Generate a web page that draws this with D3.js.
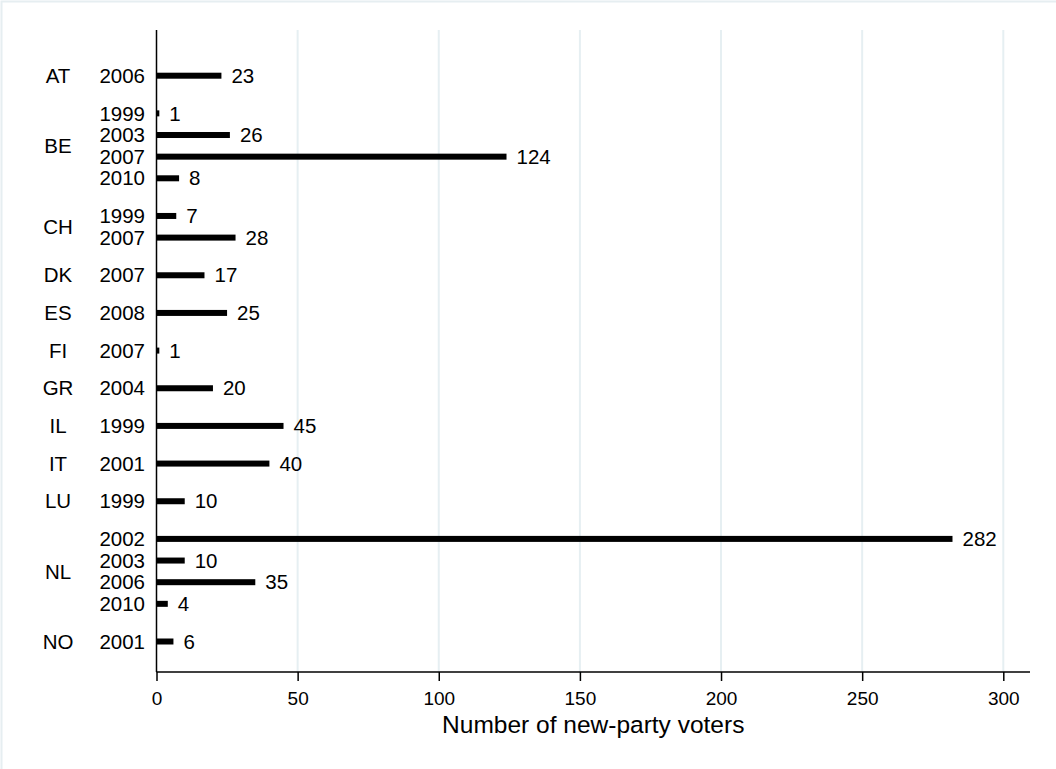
<!DOCTYPE html>
<html>
<head>
<meta charset="utf-8">
<script src="https://cdn.jsdelivr.net/npm/d3@7"></script>
<style>
  html, body { margin: 0; padding: 0; background: #fff; }
  svg { display: block; font-family: "Liberation Sans", Arial, Helvetica, sans-serif; }
</style>
</head>
<body>
<svg id="chart" width="1056" height="769"></svg>
<script>
// New-party voters by country and election year
const countries = ["AT", "BE", "BE", "BE", "BE", "CH", "CH", "DK", "ES", "FI", "GR", "IL", "IT", "LU", "NL", "NL", "NL", "NL", "NO"];
const years     = ["2006", "1999", "2003", "2007", "2010", "1999", "2007", "2007", "2008", "2007", "2004", "1999", "2001", "1999", "2002", "2003", "2006", "2010", "2001"];
const voters    = [23, 1, 26, 124, 8, 7, 28, 17, 25, 1, 20, 45, 40, 10, 282, 10, 35, 4, 6];
const xTicks    = [0, 50, 100, 150, 200, 250, 300];
const xTitle    = "Number of new-party voters";

const svg = d3.select("#chart");
const W = 1056, H = 769;
const LABEL_SIZE = 20.5;

// outer frame
svg.append("rect")
  .attr("x", 1.5).attr("y", 1.5)
  .attr("width", W + 10).attr("height", H + 10)
  .attr("fill", "none").attr("stroke", "#e6eef1").attr("stroke-width", 2);

const plot = { left: 156.5, right: 1030, top: 30, bottom: 672 };

const x = d3.scaleLinear().domain([0, 300]).range([plot.left, 1003.3]);

// slot positions: one unit per bar, extra gap between countries
const GAP = 0.74;
let grp = -1;
const rows = voters.map((v, i) => {
  if (i === 0 || countries[i] !== countries[i - 1]) grp++;
  return { country: countries[i], year: years[i], value: v, pos: i + GAP * grp, grp };
});
const lastPos = rows[rows.length - 1].pos;
const y = d3.scaleLinear().domain([0, lastPos]).range([75.7, 641.5]);

// vertical gridlines
svg.append("g").selectAll("line")
  .data(xTicks.filter(t => t > 0))
  .join("line")
  .attr("x1", d => x(d)).attr("x2", d => x(d))
  .attr("y1", plot.top).attr("y2", plot.bottom)
  .attr("stroke", "#e6eff2").attr("stroke-width", 2);

// bars
svg.append("g").selectAll("rect")
  .data(rows)
  .join("rect")
  .attr("x", x(0))
  .attr("y", d => y(d.pos) - 3)
  .attr("width", d => x(d.value) - x(0))
  .attr("height", 6)
  .attr("fill", "#000");

// value labels
svg.append("g").selectAll("text")
  .data(rows)
  .join("text")
  .attr("x", d => x(d.value) + 10)
  .attr("y", d => y(d.pos))
  .attr("dy", "0.35em")
  .attr("font-size", LABEL_SIZE)
  .attr("fill", "#000")
  .text(d => d.value);

// year labels
svg.append("g").selectAll("text")
  .data(rows)
  .join("text")
  .attr("x", 145)
  .attr("y", d => y(d.pos))
  .attr("dy", "0.35em")
  .attr("text-anchor", "end")
  .attr("font-size", LABEL_SIZE)
  .attr("fill", "#000")
  .text(d => d.year);

// country labels, centred on their group of bars
const groups = d3.groups(rows, d => d.country);
svg.append("g").selectAll("text")
  .data(groups)
  .join("text")
  .attr("x", 58)
  .attr("y", ([, g]) => (y(g[0].pos) + y(g[g.length - 1].pos)) / 2)
  .attr("dy", "0.35em")
  .attr("text-anchor", "middle")
  .attr("font-size", LABEL_SIZE)
  .attr("fill", "#000")
  .text(([c]) => c);

// left axis line
svg.append("line")
  .attr("x1", plot.left).attr("x2", plot.left)
  .attr("y1", plot.top).attr("y2", plot.bottom)
  .attr("stroke", "#000").attr("stroke-width", 1.5);

// bottom axis
const xAxis = d3.axisBottom(x).tickValues(xTicks).tickSize(9).tickPadding(10.5).tickSizeOuter(0);
const gx = svg.append("g")
  .attr("transform", `translate(0,${plot.bottom})`)
  .call(xAxis);
gx.select(".domain").remove();
gx.append("line")
  .attr("x1", plot.left).attr("x2", plot.right)
  .attr("stroke", "#000").attr("stroke-width", 1.5);
gx.selectAll(".tick line").attr("stroke", "#000").attr("stroke-width", 1.5);
gx.selectAll(".tick text")
  .attr("font-family", "Liberation Sans, Arial, sans-serif")
  .attr("font-size", 19).attr("fill", "#000");

// axis title
svg.append("text")
  .attr("x", (plot.left + plot.right) / 2)
  .attr("y", 732.5)
  .attr("text-anchor", "middle")
  .attr("font-size", 24.5)
  .attr("fill", "#000")
  .text(xTitle);
</script>
</body>
</html>
